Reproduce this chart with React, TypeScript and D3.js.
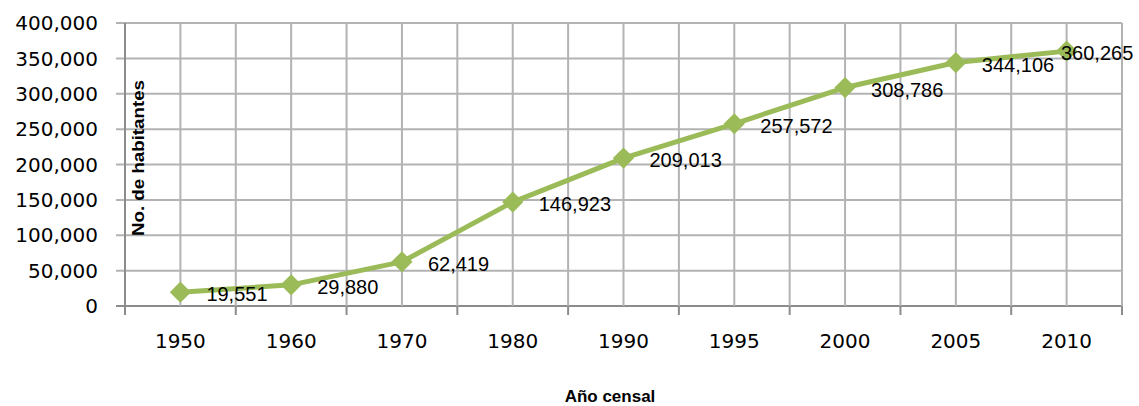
import * as d3 from 'd3'

const years = ['1950', '1960', '1970', '1980', '1990', '1995', '2000', '2005', '2010']
const population = [19551, 29880, 62419, 146923, 209013, 257572, 308786, 344106, 360265]
const yTicks = [0, 50000, 100000, 150000, 200000, 250000, 300000, 350000, 400000]

const W = 1139
const H = 406
const margin = { left: 125, right: 17, top: 23, bottom: 100 }

export default function App() {
  const x = d3.scaleBand().domain(years).range([margin.left, W - margin.right]).padding(0)
  const y = d3.scaleLinear().domain([0, 400000]).range([H - margin.bottom, margin.top])
  const bw = x.bandwidth()
  const cx = (yr: string) => (x(yr) || 0) + bw / 2
  const fmt = d3.format(',')

  const line = d3.line<number>()
    .x((_, i) => cx(years[i]))
    .y(d => y(d))

  // gridlines at category edges and centres
  const vLines: number[] = []
  years.forEach(yr => {
    vLines.push(x(yr) || 0)
    vLines.push(cx(yr))
  })
  vLines.push(W - margin.right)

  const gridColor = '#b3b3b3'
  const axisColor = '#8c8c8c'
  const bottom = y(0)
  const top = y(400000)

  return (
    <svg width={W} height={H} style={{ position: 'absolute', left: 0, top: 0, background: '#fff' }}>
      {/* horizontal grid + y ticks */}
      {yTicks.map(t => (
        <line key={'h' + t} x1={margin.left - 9} x2={W - margin.right} y1={y(t)} y2={y(t)}
          stroke={t === 0 ? axisColor : gridColor} strokeWidth={2} />
      ))}
      {/* vertical grid */}
      {vLines.map((v, i) => (
        <line key={'v' + i} x1={v} x2={v} y1={top} y2={bottom} stroke={i === 0 ? axisColor : gridColor} strokeWidth={2} />
      ))}
      {/* x axis ticks at category boundaries */}
      {[...years.map(yr => x(yr) || 0), W - margin.right].map((v, i) => (
        <line key={'xt' + i} x1={v} x2={v} y1={bottom} y2={bottom + 9} stroke={axisColor} strokeWidth={2} />
      ))}
      {/* y tick labels */}
      {yTicks.map(t => (
        <text key={'yl' + t} x={98} y={y(t)} dy="0.36em" textAnchor="end"
          fontFamily="DejaVu Sans, sans-serif" fontSize={20} fill="#000">{fmt(t)}</text>
      ))}
      {/* x tick labels */}
      {years.map(yr => (
        <text key={'xl' + yr} x={cx(yr)} y={348} textAnchor="middle"
          fontFamily="DejaVu Sans, sans-serif" fontSize={20} fill="#000">{yr}</text>
      ))}
      {/* series line */}
      <path d={line(population) || ''} fill="none" stroke="#9bbb59" strokeWidth={5} strokeLinejoin="round" />
      {population.map((v, i) => (
        <rect key={'m' + i} x={-7.5} y={-7.5} width={15} height={15} fill="#9bbb59"
          transform={`translate(${cx(years[i])},${y(v)}) rotate(45)`} />
      ))}
      {/* data labels */}
      {population.map((v, i) => {
        const lx = Math.min(cx(years[i]) + 26, W - 78)
        return (
          <text key={'dl' + i} x={lx} y={y(v)} dy="0.45em"
            fontFamily="Liberation Sans, Arial, sans-serif" fontSize={20} fill="#000">{fmt(v)}</text>
        )
      })}
      {/* axis titles */}
      <text transform={`translate(144,158) rotate(-90)`} textAnchor="middle"
        fontFamily="Liberation Sans, Arial, sans-serif" fontSize={17} fontWeight="bold" fill="#000"
        textLength={156} lengthAdjust="spacingAndGlyphs">No. de habitantes</text>
      <text x={610} y={402} textAnchor="middle"
        fontFamily="Liberation Sans, Arial, sans-serif" fontSize={17} fontWeight="bold" fill="#000">Año censal</text>
    </svg>
  )
}
